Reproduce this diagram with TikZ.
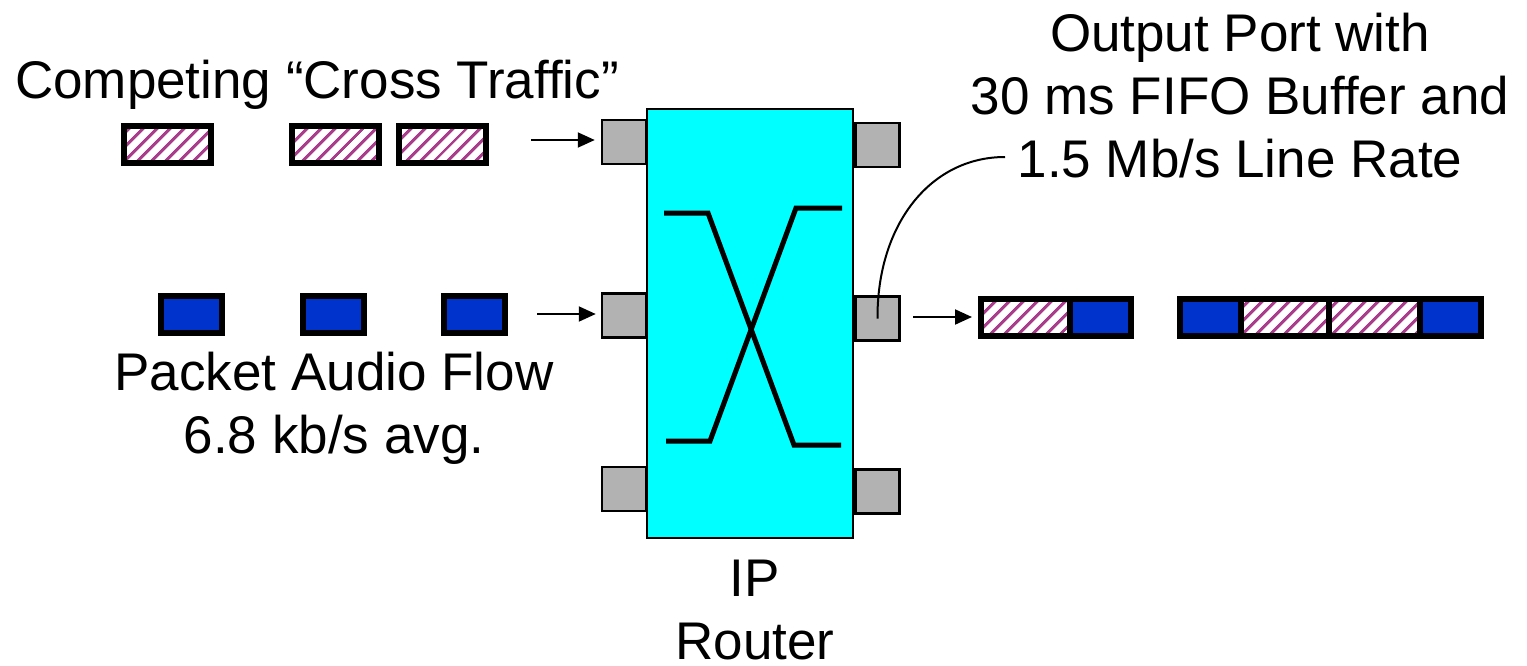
\documentclass[tikz,border=0pt]{standalone}
\usepackage{fontspec}
\setmainfont{Liberation Sans}
\usetikzlibrary{patterns.meta,arrows.meta}
\definecolor{hatchc}{RGB}{170,60,140}
\definecolor{pktblue}{RGB}{0,51,204}
\definecolor{portgray}{RGB}{178,178,178}
\definecolor{routercyan}{RGB}{0,255,255}
\begin{document}
\begin{tikzpicture}[x=1pt,y=-1pt,
  lbl/.style={inner sep=0pt,anchor=base,align=center,font=\fontsize{53}{63}\selectfont},
  pkt/.style={draw=black,line width=6pt,inner sep=0pt,minimum height=37pt},
  hatchpkt/.style={pkt,pattern={Lines[angle=45,distance=10.5pt,line width=3.5pt]},pattern color=hatchc},
  bluepkt/.style={pkt,fill=pktblue},
  port/.style={draw=black,line width=2.5pt,fill=portgray,inner sep=0pt,minimum width=44pt,minimum height=44pt},
  arr/.style={line width=2pt,-{Triangle[length=17pt,width=15pt]}},
  xline/.style={line width=5pt,line join=miter}
]
\useasboundingbox (0,0) rectangle (1527,665);
% router
\node[draw=black,line width=2.5pt,fill=routercyan,inner sep=0pt,minimum width=206pt,minimum height=429pt] (router) at (750,323.5) {};
% ports
\node[port] (lp1) at (624,142) {};
\node[port] (lp2) at (624,315.5) {};
\node[port] (lp3) at (624,489) {};
\node[port] (rp1) at (877.5,145) {};
\node[port] (rp2) at (877.5,318.5) {};
\node[port] (rp3) at (877.5,491.5) {};
% switch fabric
\draw[xline] (664,213) -- (708,213) -- (794,445) -- (841,445);
\draw[xline] (666,441) -- (710,441) -- (796,208) -- (842,208);
% cross traffic packets
\node[hatchpkt,minimum width=87pt] (c1) at (167.5,144) {};
\node[hatchpkt,minimum width=87pt] (c2) at (335.5,144) {};
\node[hatchpkt,minimum width=87pt] (c3) at (442.5,144) {};
% audio packets
\node[bluepkt,minimum width=61pt] (a1) at (191.5,314.5) {};
\node[bluepkt,minimum width=61pt] (a2) at (333.5,314.5) {};
\node[bluepkt,minimum width=61pt] (a3) at (474.5,314.5) {};
% output queue
\node[hatchpkt,minimum width=89pt] (q1) at (1025.5,317.5) {};
\node[bluepkt,minimum width=61pt] (q2) at (1100.5,317.5) {};
\node[bluepkt,minimum width=61pt] (q3) at (1210.5,317.5) {};
\node[hatchpkt,minimum width=88pt] (q4) at (1285,317.5) {};
\node[hatchpkt,minimum width=91pt] (q5) at (1374.5,317.5) {};
\node[bluepkt,minimum width=61pt] (q6) at (1450.5,317.5) {};
% arrows
\coordinate (s1) at (531,140);
\coordinate (s2) at (537,314);
\coordinate (s3) at (913,317);
\draw[arr,shorten >=6pt] (s1) -- (lp1.west |- s1);
\draw[arr,shorten >=5pt] (s2) -- (lp2.west |- s2);
\draw[arr,shorten >=6pt] (s3) -- (q1.west |- s3);
% labels
\node[lbl] (lcross) at (317,98) {Competing “Cross Traffic”};
\node[lbl] (lout) at (1240,177) {Output Port with\\30 ms FIFO Buffer and\\1.5 Mb/s Line Rate};
\node[lbl] (laudio) at (334,453) {Packet Audio Flow\\6.8 kb/s avg.};
\node[lbl] (lrouter) at (755,659) {IP\\Router};
% callout curve
\coordinate (cend) at (1005,157);
\draw[line width=2pt] (rp2.center) .. controls (877,225) and (930,157) .. (cend);
\end{tikzpicture}
\end{document}
